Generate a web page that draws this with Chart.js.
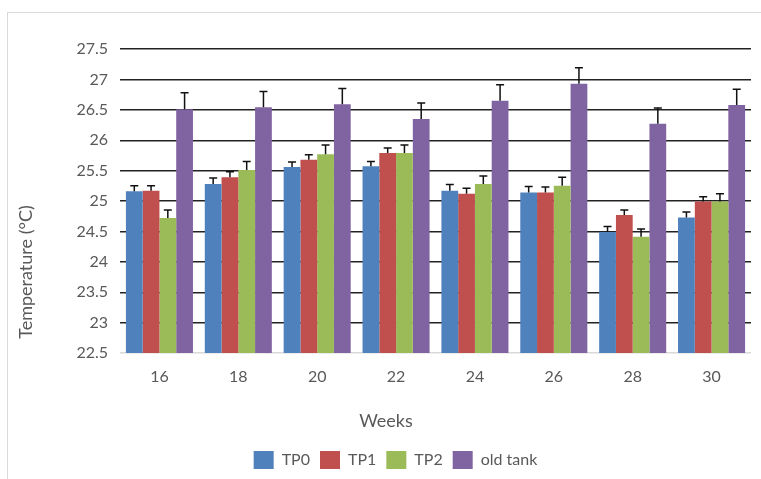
<!DOCTYPE html>
<html>
<head>
<meta charset="utf-8">
<script src="https://cdn.jsdelivr.net/npm/chart.js@4"></script>
<style>
  html, body { margin: 0; padding: 0; background: #fff; overflow: hidden; }
  #wrap { position: relative; width: 761px; height: 479px; }
  #frame { position: absolute; left: 7px; top: 12px; width: 800px; height: 500px; border: 1px solid #d9d9d9; box-sizing: border-box; }
  #chart { position: absolute; left: 0; top: 0; }
</style>
</head>
<body>
<div id="wrap">
  <div id="frame"></div>
  <canvas id="chart" width="761" height="479"></canvas>
</div>
<script>
const semanas = ['16', '18', '20', '22', '24', '26', '28', '30'];
const marcasY = [22.5, 23, 23.5, 24, 24.5, 25, 25.5, 26, 26.5, 27, 27.5];

const tp0 = [25.16, 25.28, 25.56, 25.57, 25.17, 25.14, 24.49, 24.73];
const tp1 = [25.17, 25.39, 25.68, 25.79, 25.12, 25.14, 24.77, 24.99];
const tp2 = [24.72, 25.51, 25.77, 25.79, 25.28, 25.25, 24.41, 24.99];
const oldTank = [26.51, 26.54, 26.59, 26.35, 26.65, 26.93, 26.27, 26.58];

// desviaciones (solo se dibuja la parte superior)
const tp0Err = [0.09, 0.10, 0.08, 0.08, 0.10, 0.10, 0.09, 0.09];
const tp1Err = [0.08, 0.09, 0.08, 0.08, 0.09, 0.09, 0.08, 0.08];
const tp2Err = [0.13, 0.14, 0.15, 0.13, 0.13, 0.14, 0.13, 0.13];
const oldTankErr = [0.27, 0.26, 0.26, 0.26, 0.26, 0.26, 0.26, 0.26];

const COLOR_TEXTO = '#595959';
Chart.defaults.font.family = 'Lato, "Open Sans", sans-serif';
Chart.defaults.color = COLOR_TEXTO;

const barrasError = {
    id: 'barrasError',
    afterDatasetsDraw(chart) {
        const ctx = chart.ctx;
        const y = chart.scales.y;
        ctx.save();
        ctx.strokeStyle = '#111';
        ctx.lineWidth = 1.5;
        chart.data.datasets.forEach((ds, i) => {
            const meta = chart.getDatasetMeta(i);
            meta.data.forEach((bar, j) => {
                const arriba = y.getPixelForValue(ds.data[j] + ds.errores[j]);
                ctx.beginPath();
                ctx.moveTo(bar.x, bar.y);
                ctx.lineTo(bar.x, arriba);
                ctx.moveTo(bar.x - 4, arriba);
                ctx.lineTo(bar.x + 4, arriba);
                ctx.stroke();
            });
        });
        ctx.restore();
    }
};

const titulosEjes = {
    id: 'titulosEjes',
    afterDraw(chart) {
        const ctx = chart.ctx;
        ctx.save();
        ctx.fillStyle = COLOR_TEXTO;
        ctx.font = '18px Lato, "Open Sans", sans-serif';
        ctx.textAlign = 'center';
        ctx.textBaseline = 'middle';
        ctx.fillText('Weeks', 386, 421);
        ctx.translate(26, 272);
        ctx.rotate(-Math.PI / 2);
        ctx.fillText('Temperature (°C)', 0, 0);
        ctx.restore();
    }
};

function serie(nombre, datos, errores, color) {
    return {
        label: nombre,
        data: datos,
        errores: errores,
        backgroundColor: color,
        borderWidth: 0,
        categoryPercentage: 0.85,
        barPercentage: 1
    };
}

new Chart(document.getElementById('chart'), {
    type: 'bar',
    data: {
        labels: semanas,
        datasets: [
            serie('TP0', tp0, tp0Err, '#4f81bd'),
            serie('TP1', tp1, tp1Err, '#c0504d'),
            serie('TP2', tp2, tp2Err, '#9bbb59'),
            serie('old tank', oldTank, oldTankErr, '#8064a2')
        ]
    },
    options: {
        responsive: false,
        animation: false,
        layout: { padding: { top: 49, right: 10, left: 40, bottom: 0 } },
        plugins: {
            tooltip: { enabled: false },
            legend: {
                position: 'bottom',
                labels: {
                    boxWidth: 20,
                    boxHeight: 18,
                    padding: 10,
                    font: { size: 16 },
                    color: COLOR_TEXTO
                }
            }
        },
        scales: {
            x: {
                grid: { display: false, drawTicks: false },
                border: { display: false },
                ticks: { font: { size: 16 }, padding: 14, color: COLOR_TEXTO },
                afterFit(scale) { scale.height = 88; }
            },
            y: {
                min: 22.5,
                max: 27.5,
                afterBuildTicks(scale) { scale.ticks = marcasY.map(v => ({ value: v })); },
                ticks: {
                    font: { size: 16 },
                    padding: 12,
                    color: COLOR_TEXTO,
                    callback: v => String(v)
                },
                grid: {
                    drawTicks: false,
                    lineWidth: 1.4,
                    color: c => c.tick && c.tick.value === 22.5 ? '#d9d9d9' : '#222'
                },
                border: { display: false },
                afterFit(scale) { scale.width = 80; }
            }
        }
    },
    plugins: [barrasError, titulosEjes]
});
</script>
</body>
</html>
